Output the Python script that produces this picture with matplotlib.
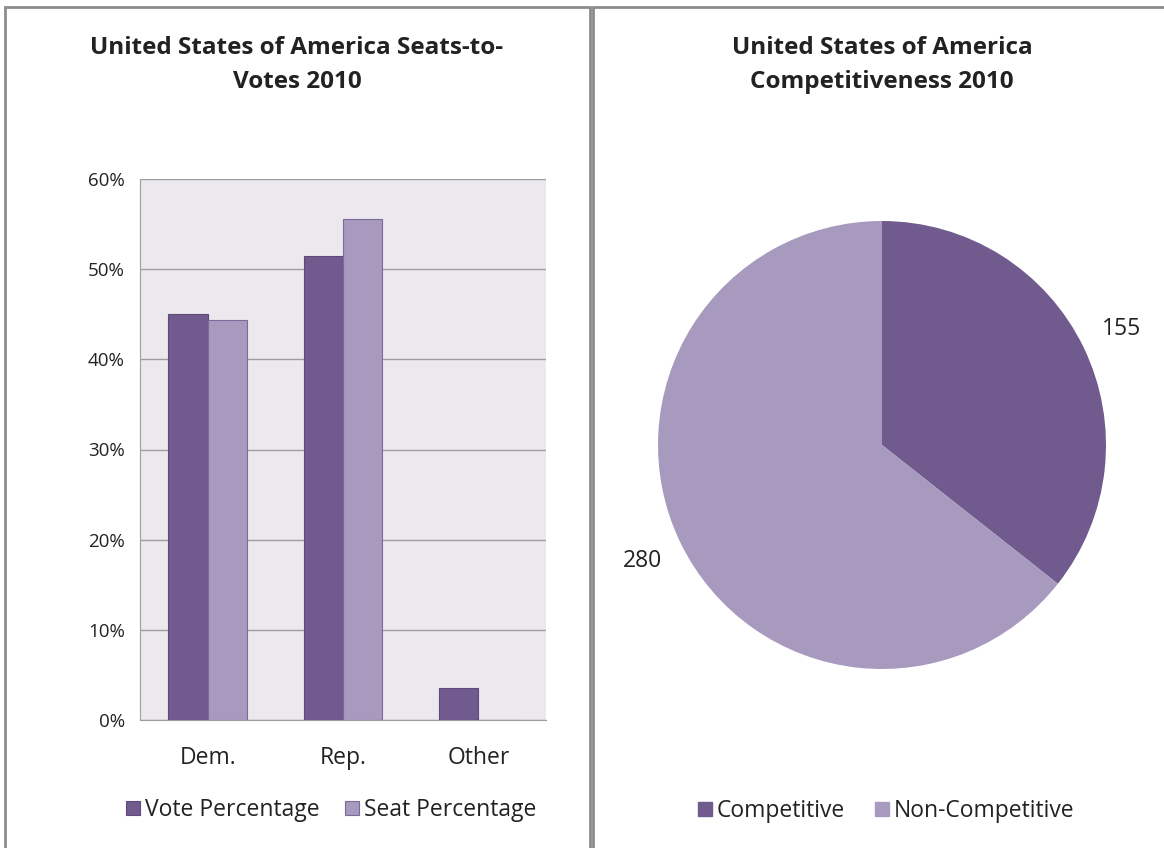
import numpy as np
import matplotlib
matplotlib.use("Agg")
import matplotlib.pyplot as plt
from matplotlib.patches import Rectangle, Patch
from matplotlib.ticker import PercentFormatter

plt.rcParams['font.family'] = ['Open Sans', 'DejaVu Sans']

# bar chart data
parties = ['Dem.', 'Rep.', 'Other']
vote_pct = [45.0, 51.5, 3.5]
seat_pct = [44.4, 55.6, 0.0]

# pie chart data
comp_labels = ['Competitive', 'Non-Competitive']
comp_counts = [155, 280]

dark = '#705A8E'
light = '#A89ABE'
bg = '#EBE8EE'
grid_col = '#9E9E9E'
txt = '#222222'

W, H = 1164, 848
fig = plt.figure(figsize=(W / 100, H / 100), dpi=100)

def fx(px):
    return px / W

def fy(py):
    return 1 - py / H

# panel borders
for x0, x1 in [(5, 590), (593, 1170)]:
    fig.patches.append(Rectangle((fx(x0), fy(860)), fx(x1 - x0), (860 - 7) / H,
                                 transform=fig.transFigure, fill=False,
                                 edgecolor='#8C8C8C', linewidth=2))

# titles
fig.text(fx(297), fy(65), 'United States of America Seats-to-\nVotes 2010',
         ha='center', va='center', fontsize=17.5, fontweight='bold',
         color=txt, linespacing=1.5)
fig.text(fx(882), fy(65), 'United States of America\nCompetitiveness 2010',
         ha='center', va='center', fontsize=17.5, fontweight='bold',
         color=txt, linespacing=1.5)

# --- bar chart ---
ax = fig.add_axes([fx(140), fy(720), fx(406), (720 - 179) / H])
ax.set_facecolor(bg)
x = np.arange(len(parties))
w = 0.29
ax.bar(x - w / 2, vote_pct, w, color=dark, edgecolor='#5E4A7A', linewidth=0.8,
       label='Vote Percentage', zorder=3)
ax.bar(x + w / 2, seat_pct, w, color=light, edgecolor='#7E6A9A', linewidth=0.8,
       label='Seat Percentage', zorder=3)
ax.set_xlim(-0.5, 2.5)
ax.set_ylim(0, 60)
ax.set_yticks(np.arange(0, 61, 10))
ax.yaxis.set_major_formatter(PercentFormatter(decimals=0))
ax.set_xticks(x)
ax.set_xticklabels(parties)
ax.grid(axis='y', color=grid_col, linewidth=1, zorder=1)
ax.tick_params(length=0, labelsize=13.5, colors=txt)
ax.tick_params(axis='x', pad=19, labelsize=16.5)
ax.tick_params(axis='y', pad=11)
for s in ['top', 'right']:
    ax.spines[s].set_visible(False)
for s in ['left', 'bottom']:
    ax.spines[s].set_color(grid_col)
ax.legend(loc='center', bbox_to_anchor=(fx(331), fy(810)),
          bbox_transform=fig.transFigure, ncol=2, frameon=False,
          fontsize=16.5, handlelength=0.62, handleheight=0.62,
          handletextpad=0.2, columnspacing=1.1, labelcolor=txt)

# --- pie chart ---
r = 224
pax = fig.add_axes([fx(882 - r), fy(445 + r), fx(2 * r), 2 * r / H])
wedges, texts = pax.pie(comp_counts, labels=[str(v) for v in comp_counts],
                        colors=[dark, light], startangle=90, counterclock=False,
                        labeldistance=1.19, radius=1,
                        wedgeprops=dict(linewidth=0))
for t in texts:
    t.set_ha('center')
    t.set_va('center')
    t.set_fontsize(16.5)
    t.set_color(txt)
pax.set_xlim(-1, 1)
pax.set_ylim(-1, 1)
pax.set_aspect('equal')
pax.legend(handles=[Patch(color=dark), Patch(color=light)], labels=comp_labels,
           loc='center', bbox_to_anchor=(fx(886), fy(811)),
           bbox_transform=fig.transFigure, ncol=2, frameon=False,
           fontsize=16.5, handlelength=0.62, handleheight=0.62,
           handletextpad=0.2, columnspacing=1.3, labelcolor=txt)

fig.savefig('out.png', dpi=100)
